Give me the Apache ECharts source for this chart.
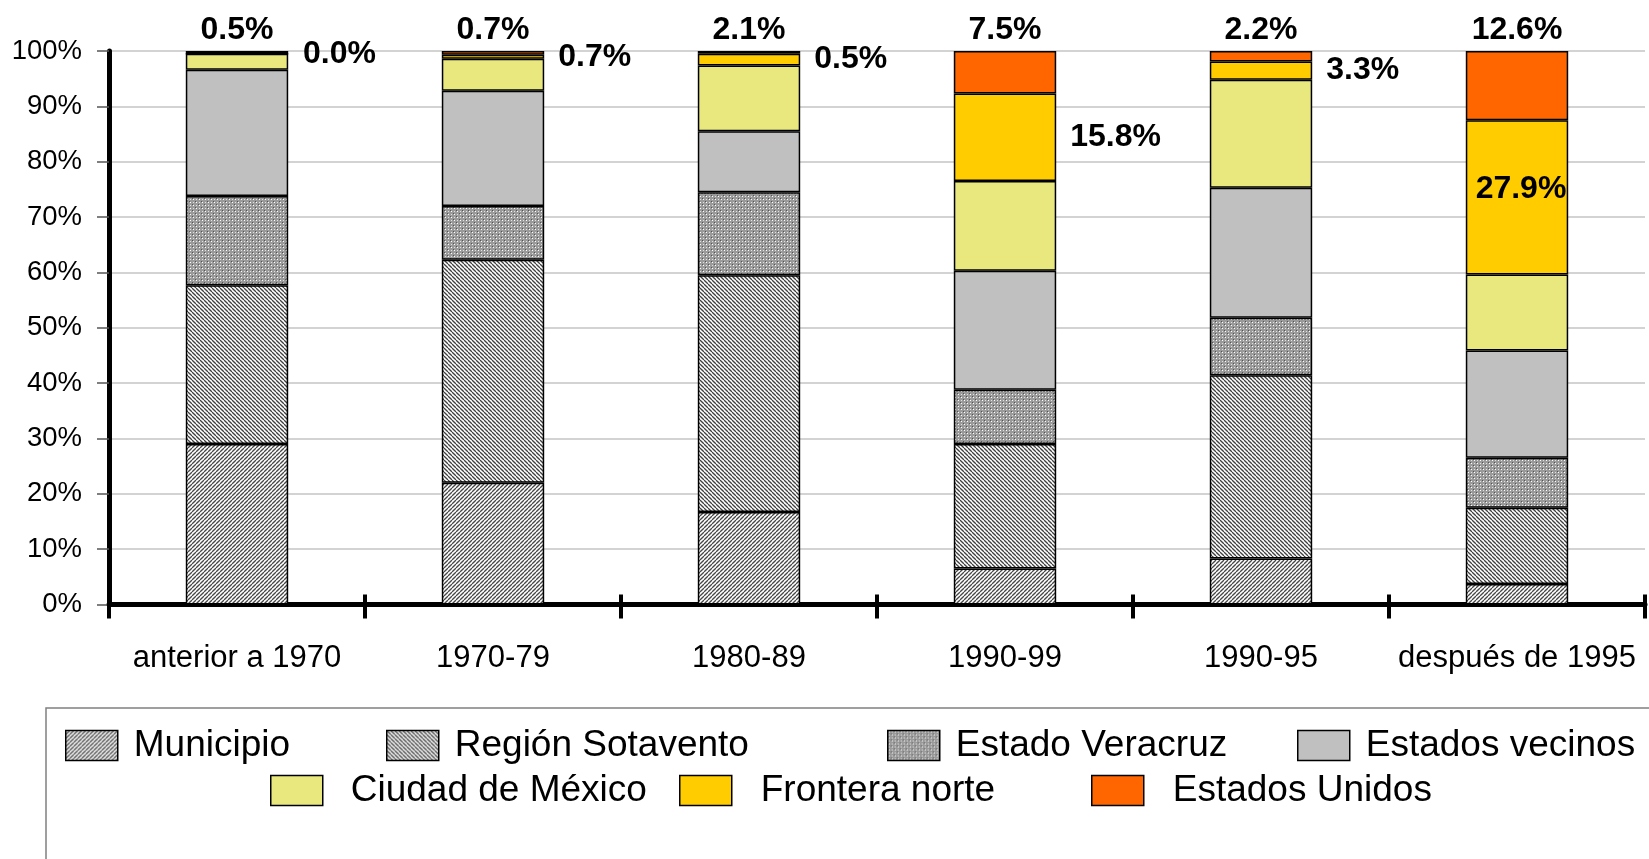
<!DOCTYPE html>
<html>
<head>
<meta charset="utf-8">
<script src="https://cdn.jsdelivr.net/npm/echarts@6/dist/echarts.min.js"></script>
<style>
html,body{margin:0;padding:0;background:#fff;}
#chart{width:1649px;height:859px;}
</style>
</head>
<body>
<div id="chart"></div>
<script>
// ---- data ----
const categories = ['anterior a 1970', '1970-79', '1980-89', '1990-99', '1990-95', 'después de 1995'];
const seriesNames = ['Municipio', 'Región Sotavento', 'Estado Veracruz', 'Estados vecinos', 'Ciudad de México', 'Frontera norte', 'Estados Unidos'];
const municipio      = [29.0, 22.0, 16.7, 6.5, 8.3, 3.7];
const regionSotavento= [28.7, 40.3, 42.8, 22.5, 33.1, 13.8];
const estadoVeracruz = [16.1, 9.7, 15.0, 9.8, 10.4, 9.0];
const estadosVecinos = [22.8, 20.8, 11.0, 21.5, 23.5, 19.4];
const ciudadMexico   = [2.9, 5.8, 11.9, 16.2, 19.5, 13.7];
const fronteraNorte  = [0.0, 0.7, 2.1, 15.8, 3.3, 27.9];
const estadosUnidos  = [0.5, 0.7, 0.5, 7.7, 1.9, 12.5];
const topLabels  = ['0.5%', '0.7%', '2.1%', '7.5%', '2.2%', '12.6%'];
const sideLabels = ['0.0%', '0.7%', '0.5%', '15.8%', '3.3%', '27.9%'];
const yTickLabels = ['0%','10%','20%','30%','40%','50%','60%','70%','80%','90%','100%'];

// ---- patterns ----
function makeTile(size, draw) {
  const c = document.createElement('canvas');
  c.width = size; c.height = size;
  const g = c.getContext('2d');
  draw(g, size);
  return { image: c, repeat: 'repeat' };
}
const patMunicipio = makeTile(4, (g, s) => {
  g.fillStyle = '#ffffff'; g.fillRect(0, 0, s, s);
  g.strokeStyle = '#474747'; g.lineWidth = 1.3;
  for (let k = -1; k <= 1; k++) {
    g.beginPath(); g.moveTo(k * s, s); g.lineTo(k * s + s, 0); g.stroke();
  }
});
const patRegion = makeTile(4, (g, s) => {
  g.fillStyle = '#ffffff'; g.fillRect(0, 0, s, s);
  g.strokeStyle = '#404040'; g.lineWidth = 1.3;
  for (let k = -1; k <= 1; k++) {
    g.beginPath(); g.moveTo(k * s, 0); g.lineTo(k * s + s, s); g.stroke();
  }
});
const patVeracruz = makeTile(6, (g, s) => {
  g.fillStyle = '#9a9a9a'; g.fillRect(0, 0, s, s);
  g.fillStyle = '#ffffff';
  g.fillRect(1, 1, 1, 1); g.fillRect(4, 4, 1, 1);
  g.fillStyle = '#e0e0e0';
  g.fillRect(4, 1, 1, 1); g.fillRect(1, 4, 1, 1);
  g.fillStyle = '#555555';
  g.fillRect(0, 0, 1, 1); g.fillRect(3, 3, 1, 1);
});
const colors = [patMunicipio, patRegion, patVeracruz, '#c0c0c0', '#e8e87e', '#ffcc00', '#ff6600'];
const values = [municipio, regionSotavento, estadoVeracruz, estadosVecinos, ciudadMexico, fronteraNorte, estadosUnidos];

const FONT = "'Liberation Sans', Arial, sans-serif";

const series = seriesNames.map((name, si) => {
  const s = {
    name: name,
    type: 'bar',
    stack: 'total',
    barWidth: '40%',
    xAxisIndex: 0,
    itemStyle: { color: colors[si], borderColor: '#000', borderWidth: 1.5 },
    emphasis: { disabled: true },
    data: values[si].slice()
  };
  if (name === 'Estados Unidos') {
    s.label = {
      show: true, position: 'top', distance: 5,
      formatter: p => topLabels[p.dataIndex],
      color: '#000', fontSize: 32, fontWeight: 'bold', fontFamily: FONT
    };
  }
  if (name === 'Frontera norte') {
    s.label = {
      show: true, position: 'right', distance: 14,
      formatter: p => sideLabels[p.dataIndex],
      color: '#000', fontSize: 32, fontWeight: 'bold', fontFamily: FONT
    };
    const last = s.data.length - 1;
    s.data[last] = { value: values[si][last], label: { position: 'inside', distance: 0, offset: [4, -8] } };
  }
  return s;
});

// legend layout
const legendRow1 = 727, legendRow2 = 772;
const legendSpecs = [
  { name: 'Municipio', left: 65, top: legendRow1, gap: 11 },
  { name: 'Región Sotavento', left: 386, top: legendRow1, gap: 11 },
  { name: 'Estado Veracruz', left: 887, top: legendRow1, gap: 11 },
  { name: 'Estados vecinos', left: 1297, top: legendRow1, gap: 11 },
  { name: 'Ciudad de México', left: 270, top: legendRow2, gap: 23 },
  { name: 'Frontera norte', left: 679, top: legendRow2, gap: 24 },
  { name: 'Estados Unidos', left: 1091, top: legendRow2, gap: 24 }
];
const legends = legendSpecs.map(l => ({
  data: [l.name],
  left: l.left, top: l.top,
  padding: 0,
  icon: 'rect',
  itemWidth: 52, itemHeight: 30,
  selectedMode: false,
  itemStyle: { borderColor: '#000', borderWidth: 1.5 },
  textStyle: { fontSize: 37, color: '#000', fontFamily: FONT, padding: [0, 0, 0, l.gap] }
}));

const chart = echarts.init(document.getElementById('chart'), null, { renderer: 'canvas' });
chart.setOption({
  backgroundColor: '#fff',
  animation: false,
  grid: { left: 109, right: 4, top: 51, bottom: 254.5, containLabel: false },
  legend: legends,
  graphic: [{
    type: 'rect', z: -1,
    shape: { x: 46, y: 708, width: 1700, height: 300 },
    style: { fill: 'none', stroke: '#808080', lineWidth: 1.5 }
  }],
  xAxis: [{
    type: 'category',
    data: categories,
    axisLine: { lineStyle: { color: '#000', width: 5 } },
    axisTick: { show: true, length: 14, lineStyle: { color: '#000', width: 4 } },
    axisLabel: { margin: 38, fontSize: 31, color: '#000', fontFamily: FONT, interval: 0 },
    splitLine: { show: false }
  }, {
    type: 'category',
    data: categories,
    position: 'bottom',
    axisLine: { show: false },
    axisTick: { show: true, inside: true, length: 10, lineStyle: { color: '#000', width: 4 } },
    axisLabel: { show: false },
    splitLine: { show: false }
  }],
  yAxis: {
    type: 'value',
    min: 0, max: 100, interval: 10,
    axisLine: { show: true, lineStyle: { color: '#000', width: 5 } },
    axisTick: { show: true, length: 12, lineStyle: { color: '#555', width: 1.5 } },
    axisLabel: {
      margin: 27, fontSize: 27.5, color: '#000', fontFamily: FONT,
      formatter: v => yTickLabels[Math.round(v / 10)]
    },
    splitLine: { show: true, lineStyle: { color: '#c4c4c4', width: 1.5 } }
  },
  series: series
});
</script>
</body>
</html>
